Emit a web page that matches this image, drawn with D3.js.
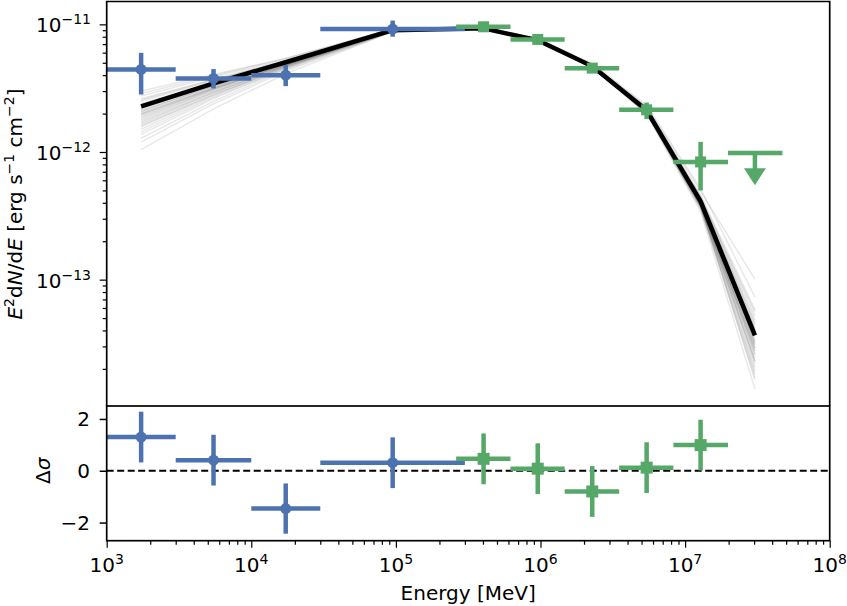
<!DOCTYPE html>
<html><head><meta charset="utf-8">
<script src="https://cdn.jsdelivr.net/npm/d3@7"></script>
<style>body{margin:0;background:#fff}svg{display:block;font-family:"DejaVu Sans",sans-serif}</style>
</head><body><svg id="c" width="847" height="606"></svg>
<script>
// ---------- data ----------
const energy = [1.73e3, 5.48e3, 1.73e4, 9.5e4, 4.04e5, 9.57e5, 2.28e6, 5.42e6, 1.28e7, 3.04e7];
const binLo  = [1e3, 3e3, 1e4, 3e4, 2.61e5, 6.2e5, 1.47e6, 3.5e6, 8.3e6, 1.98e7];
const binHi  = [3e3, 1e4, 3e4, 3e5, 6.2e5, 1.47e6, 3.5e6, 8.3e6, 1.98e7, 4.71e7];
const series = ["low","low","low","low","high","high","high","high","high","high"];
const flux   = [4.43e-12, 3.77e-12, 4.0e-12, 9.19e-12, 9.57e-12, 7.62e-12, 4.54e-12, 2.14e-12, 8.36e-13, 9.8e-13];
const fluxLo = [2.82e-12, 3.15e-12, 3.28e-12, 8.0e-12, 9.2e-12, 7.3e-12, 4.3e-12, 1.81e-12, 5.0e-13, null];
const fluxHi = [5.98e-12, 4.46e-12, 4.8e-12, 1.07e-11, 9.95e-12, 7.95e-12, 4.8e-12, 2.44e-12, 1.2e-12, null];
const upperLimit = [false,false,false,false,false,false,false,false,false,true];
const ulArrowTip = 5.5e-13;
const residual    = [1.30, 0.41, -1.46, 0.31, 0.46, 0.08, -0.80, 0.12, 0.99];
const residualErr = [0.98, 0.98, 0.97, 0.98, 0.98, 0.98, 0.98, 0.98, 0.98];
const modelFlux = [2.28e-12, 3.45e-12, 5.05e-12, 9.0e-12, 9.3e-12, 7.5e-12, 4.7e-12, 2.12e-12, 4.1e-13, 3.66e-14];
// posterior sample curves: offsets (dex) from the model at each energy
const sampleOffsets = [
 [-0.34,-0.20,-0.09,-0.01,0.00,0.00,0.01,0.02,0.05,0.20],
 [-0.28,-0.16,-0.07,-0.01,0.00,0.01,0.01,0.03,0.08,0.44],
 [-0.22,-0.12,-0.05,0.00,0.01,0.00,-0.01,-0.02,-0.05,-0.30],
 [-0.20,-0.11,-0.05,-0.01,0.00,0.00,0.00,0.01,0.02,0.10],
 [-0.18,-0.10,-0.04,0.00,0.00,0.00,-0.01,-0.03,-0.08,-0.42],
 [-0.16,-0.09,-0.04,0.00,0.01,0.01,0.00,-0.01,-0.03,-0.20],
 [-0.14,-0.08,-0.03,0.00,0.00,0.00,0.00,0.00,0.00,-0.05],
 [-0.12,-0.07,-0.03,-0.01,0.00,0.00,0.01,0.02,0.04,0.15],
 [-0.11,-0.06,-0.03,0.00,0.00,0.00,-0.01,-0.02,-0.04,-0.25],
 [-0.10,-0.05,-0.02,0.00,0.00,0.00,0.00,-0.01,-0.02,-0.15],
 [-0.09,-0.05,-0.02,0.00,0.00,0.00,0.00,0.01,0.01,0.05],
 [-0.08,-0.04,-0.02,0.00,0.00,0.01,0.01,0.02,0.03,0.12],
 [-0.07,-0.04,-0.02,0.00,0.00,0.00,0.00,-0.01,-0.03,-0.18],
 [-0.06,-0.03,-0.01,0.00,0.00,0.00,-0.01,-0.02,-0.05,-0.28],
 [-0.05,-0.03,-0.01,0.00,0.00,0.00,0.00,0.00,-0.01,-0.08],
 [-0.04,-0.02,-0.01,0.00,0.00,0.00,0.00,0.01,0.02,0.08],
 [-0.03,-0.02,-0.01,0.00,0.00,0.00,0.00,0.00,0.00,-0.03],
 [-0.02,-0.01,0.00,0.00,0.00,0.00,0.00,-0.01,-0.02,-0.12],
 [-0.01,-0.01,0.00,0.00,0.00,0.00,0.00,0.00,0.01,0.03],
 [0.00,0.00,0.00,0.00,0.00,0.00,0.00,-0.01,-0.03,-0.22],
 [0.02,0.01,0.00,0.00,0.00,0.00,0.00,0.00,-0.01,-0.06],
 [0.04,0.02,0.01,0.00,0.00,0.00,0.00,0.01,0.02,0.06],
 [0.06,0.03,0.01,0.00,0.00,0.00,-0.01,-0.02,-0.04,-0.20],
 [0.08,0.05,0.02,0.00,0.00,0.00,0.00,0.00,-0.02,-0.10],
 [0.10,0.06,0.03,0.01,0.00,0.00,0.00,0.01,0.03,0.18],
 [0.12,0.07,0.03,0.01,0.00,0.00,0.00,-0.01,-0.03,-0.35],
 [-0.15,-0.09,-0.04,-0.01,0.00,0.01,0.02,0.04,0.10,0.30],
 [-0.25,-0.14,-0.06,-0.01,0.00,0.00,0.00,-0.01,-0.02,-0.12],
 [0.05,0.03,0.01,0.00,-0.01,-0.01,-0.01,-0.01,-0.02,-0.15],
 [-0.13,-0.07,-0.03,0.00,0.00,0.00,0.00,-0.02,-0.06,-0.33],
 [-0.04,-0.02,-0.01,0.00,0.00,0.00,0.00,-0.01,-0.02,-0.10],
 [-0.02,-0.01,0.00,0.00,0.00,0.00,0.00,0.00,0.00,0.00],
 [-0.06,-0.04,-0.02,0.00,0.00,0.00,0.00,0.00,0.01,0.04],
 [0.01,0.00,0.00,0.00,0.00,0.00,0.00,-0.01,-0.01,-0.07]
];
const xTickExp = [3,4,5,6,7,8];
const yTickExp = [-11,-12,-13];
const resTicks = [-2,0,2];
const colors = {low:"#4C72B0", high:"#55A868"};

// ---------- scales ----------
const svg = d3.select("#c");
const L = 106.7, R = 829.7;
const x = d3.scaleLog().domain([1e3,1e8]).range([L,R]);
const y = d3.scaleLog().domain([Math.pow(10,-13.982), Math.pow(10,-10.821)]).range([405,1.5]);
const yr = d3.scaleLinear().domain([-2.70,2.50]).range([540.7,406]);

// ---------- top panel ----------
const topG = svg.append("g");
const line = d3.line().x(d=>x(d[0])).y(d=>y(d[1]));
sampleOffsets.forEach(off=>{
  topG.append("path").attr("d", line(energy.map((e,i)=>[e, modelFlux[i]*Math.pow(10,off[i])])))
    .attr("fill","none").attr("stroke","#000").attr("stroke-opacity",0.09).attr("stroke-width",1.5);
});
topG.append("path").attr("d", line(energy.map((e,i)=>[e, modelFlux[i]])))
  .attr("fill","none").attr("stroke","#000").attr("stroke-width",4.5).attr("stroke-linejoin","round");

const LW = 4.5;
energy.forEach((e,i)=>{
  const c = colors[series[i]];
  topG.append("line").attr("x1",x(binLo[i])).attr("x2",x(binHi[i])).attr("y1",y(flux[i])).attr("y2",y(flux[i]))
    .attr("stroke",c).attr("stroke-width",LW);
  if(!upperLimit[i]){
    topG.append("line").attr("x1",x(e)).attr("x2",x(e)).attr("y1",y(fluxLo[i])).attr("y2",y(fluxHi[i]))
      .attr("stroke",c).attr("stroke-width",LW);
    if(series[i]==="low") topG.append("circle").attr("cx",x(e)).attr("cy",y(flux[i])).attr("r",5.5).attr("fill",c);
    else topG.append("rect").attr("x",x(e)-5.5).attr("y",y(flux[i])-5.5).attr("width",11).attr("height",11).attr("fill",c);
  } else {
    const yt = y(ulArrowTip);
    topG.append("line").attr("x1",x(e)).attr("x2",x(e)).attr("y1",y(flux[i])).attr("y2",yt-15)
      .attr("stroke",c).attr("stroke-width",LW);
    topG.append("path").attr("d",`M${x(e)-11},${yt-17}L${x(e)+11},${yt-17}L${x(e)},${yt}Z`).attr("fill",c);
  }
});

// top axes
const yMinor = [];
[-14,-13,-12,-11].forEach(p=>{ for(let k=2;k<=9;k++){ const v=k*Math.pow(10,p); if(v>=y.domain()[0]&&v<=y.domain()[1]) yMinor.push(v);} });
const yAxG = svg.append("g").attr("transform",`translate(${L},0)`);
yAxG.call(d3.axisLeft(y).tickValues(yTickExp.map(p=>Math.pow(10,p))).tickSize(7).tickSizeOuter(0).tickFormat(""));
yAxG.append("g").call(d3.axisLeft(y).tickValues(yMinor).tickSize(4).tickSizeOuter(0).tickFormat(""));
yAxG.selectAll(".domain").remove();
yAxG.selectAll("line").attr("stroke","#000").attr("stroke-width",1.5);
yAxG.selectAll("g g line").attr("stroke-width",1.2);

function supLabel(g, base, exp, xx, yy, anchor){
  const t = g.append("text").attr("x",xx).attr("y",yy).attr("text-anchor",anchor).attr("font-size",20).attr("fill","#000");
  t.append("tspan").text(base);
  t.append("tspan").attr("dy",-8).attr("font-size",14).text(exp);
  return t;
}
yTickExp.forEach(p=>{
  supLabel(svg, "10", String(p).replace("-","\u2212"), 91, y(Math.pow(10,p))+8, "end");
});
svg.append("path").attr("d",`M${L},406V1.5H${R}V406`)
  .attr("fill","none").attr("stroke","#000").attr("stroke-width",1.7);

// y label
const yl = svg.append("text").attr("transform","translate(22,204) rotate(-90)").attr("text-anchor","middle")
  .attr("font-size",20).attr("fill","#000");
yl.append("tspan").attr("font-style","italic").text("E");
yl.append("tspan").attr("dy",-8).attr("font-size",14).text("2");
yl.append("tspan").attr("dy",8).text("d");
yl.append("tspan").attr("font-style","italic").text("N");
yl.append("tspan").text("/d");
yl.append("tspan").attr("font-style","italic").text("E");
yl.append("tspan").text(" [erg s");
yl.append("tspan").attr("dy",-8).attr("font-size",14).text("\u22121");
yl.append("tspan").attr("dy",8).text(" cm");
yl.append("tspan").attr("dy",-8).attr("font-size",14).text("\u22122");
yl.append("tspan").attr("dy",8).text("]");

// ---------- bottom panel ----------
const botG = svg.append("g");
botG.append("line").attr("x1",L).attr("x2",R).attr("y1",yr(0)).attr("y2",yr(0))
  .attr("stroke","#000").attr("stroke-width",2).attr("stroke-dasharray","7,3.5");
residual.forEach((r,i)=>{
  const c = colors[series[i]], e = energy[i];
  botG.append("line").attr("x1",x(binLo[i])).attr("x2",x(binHi[i])).attr("y1",yr(r)).attr("y2",yr(r))
    .attr("stroke",c).attr("stroke-width",LW);
  botG.append("line").attr("x1",x(e)).attr("x2",x(e)).attr("y1",yr(r-residualErr[i])).attr("y2",yr(r+residualErr[i]))
    .attr("stroke",c).attr("stroke-width",LW);
  if(series[i]==="low") botG.append("circle").attr("cx",x(e)).attr("cy",yr(r)).attr("r",5.5).attr("fill",c);
  else botG.append("rect").attr("x",x(e)-6).attr("y",yr(r)-6).attr("width",12).attr("height",12).attr("fill",c);
});
const ryG = svg.append("g").attr("transform",`translate(${L},0)`);
ryG.call(d3.axisLeft(yr).tickValues(resTicks).tickSize(7).tickSizeOuter(0).tickFormat(""));
ryG.selectAll(".domain").remove();
ryG.selectAll("line").attr("stroke","#000").attr("stroke-width",1.5);
resTicks.forEach(v=>{
  svg.append("text").attr("x",90).attr("y",yr(v)+7.3).attr("text-anchor","end").attr("font-size",20)
    .text(String(v).replace("-","\u2212"));
});
const xMinor = [];
[3,4,5,6,7].forEach(p=>{ for(let k=2;k<=9;k++) xMinor.push(k*Math.pow(10,p)); });
const xAxG = svg.append("g").attr("transform","translate(0,540.7)");
xAxG.call(d3.axisBottom(x).tickValues(xTickExp.map(p=>Math.pow(10,p))).tickSize(7).tickSizeOuter(0).tickFormat(""));
xAxG.append("g").call(d3.axisBottom(x).tickValues(xMinor).tickSize(4).tickSizeOuter(0).tickFormat(""));
xAxG.selectAll(".domain").remove();
xAxG.selectAll("line").attr("stroke","#000").attr("stroke-width",1.5);
xAxG.selectAll("g g line").attr("stroke-width",1.2);
xTickExp.forEach(p=>{ supLabel(svg,"10",String(p), x(Math.pow(10,p)), 571.5, "middle"); });
svg.append("rect").attr("x",L).attr("y",406).attr("width",R-L).attr("height",540.7-406)
  .attr("fill","none").attr("stroke","#000").attr("stroke-width",1.7);

svg.append("text").attr("x",(L+R)/2).attr("y",600).attr("text-anchor","middle").attr("font-size",20).text("Energy [MeV]");
const dl = svg.append("text").attr("transform",`translate(50,${yr(0)}) rotate(-90)`).attr("text-anchor","middle").attr("font-size",20);
dl.append("tspan").text("\u0394");
dl.append("tspan").attr("font-style","italic").text("\u03c3");
</script></body></html>
